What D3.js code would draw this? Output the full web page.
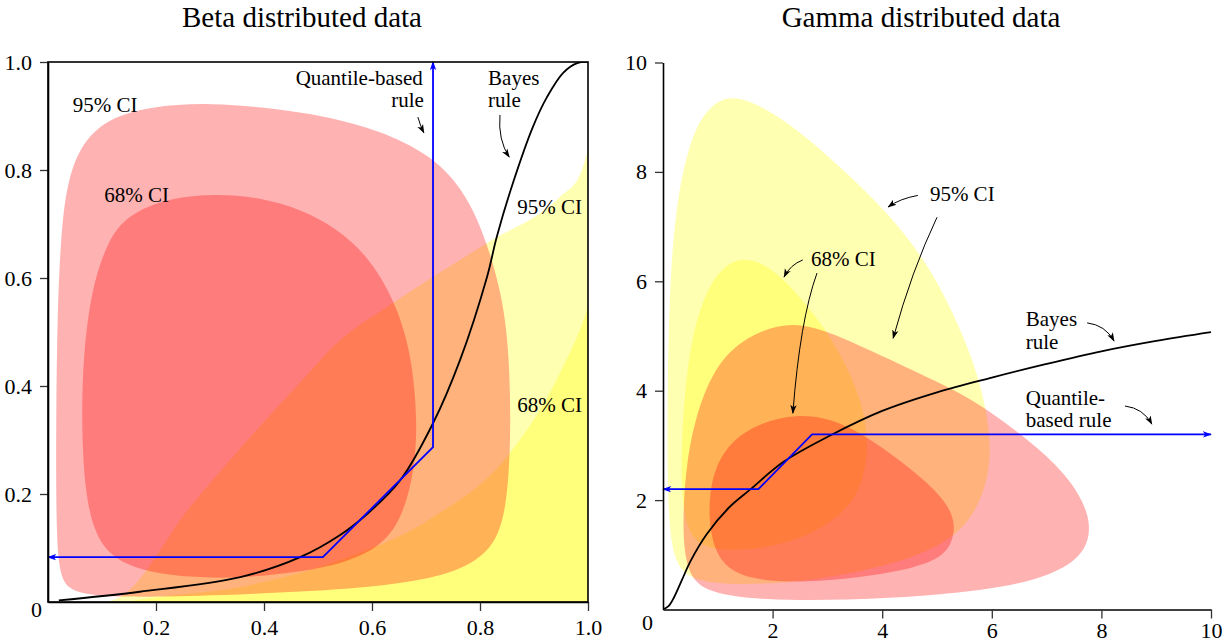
<!DOCTYPE html>
<html>
<head>
<meta charset="utf-8">
<script src="https://cdn.jsdelivr.net/npm/d3@7"></script>
<style>
  body { margin: 0; background: #fff; }
  svg text { font-family: "Liberation Serif", "Times New Roman", serif; fill: #000; }
</style>
</head>
<body>
<svg id="chart" width="1228" height="644"></svg>
<script>
// ---------------- data ----------------
// Beta panel: tick values
var betaTicks = [0.2, 0.4, 0.6, 0.8, 1.0];
// closed contour of the 95% CI for the red (beta) estimator
var betaRed95 = [[0.015,0.152],[0.015,0.337],[0.017,0.522],[0.024,0.689],[0.037,0.785],[0.064,0.852],
  [0.112,0.896],[0.189,0.918],[0.300,0.925],[0.430,0.913],[0.522,0.898],[0.615,0.873],[0.705,0.83],
  [0.765,0.77],[0.805,0.69],[0.837,0.585],[0.853,0.485],[0.858,0.319],[0.850,0.170],[0.825,0.100],
  [0.772,0.062],[0.689,0.038],[0.541,0.022],[0.319,0.012],[0.133,0.008],[0.045,0.016],[0.020,0.045]];
var betaRed68 = [[0.062,0.331],[0.065,0.454],[0.080,0.578],[0.110,0.668],[0.146,0.716],[0.220,0.748],
  [0.313,0.756],[0.393,0.749],[0.467,0.728],[0.535,0.692],[0.593,0.640],[0.640,0.563],[0.672,0.467],
  [0.684,0.343],[0.680,0.250],[0.657,0.155],[0.612,0.097],[0.528,0.066],[0.448,0.054],[0.356,0.044],
  [0.263,0.045],[0.170,0.058],[0.115,0.085],[0.085,0.130],[0.068,0.207]];
// yellow regions run from their upper boundary down to the x axis
var betaYellow95 = [[0.11,0.0],[0.133,0.009],[0.263,0.176],[0.387,0.319],[0.467,0.407],[0.541,0.485],
  [0.633,0.55],[0.813,0.665],[0.948,0.75],[0.985,0.791],[1.0,0.837],[1.02,0.92]];
var betaYellow68 = [[0.15,0.0],[0.17,0.004],[0.356,0.028],[0.467,0.054],[0.541,0.078],[0.713,0.157],
  [0.85,0.269],[0.948,0.424],[0.998,0.541],[1.02,0.62]];
var betaBayes = [[0.02,0.003],[0.17,0.019],[0.356,0.046],[0.467,0.083],[0.541,0.124],[0.591,0.163],
  [0.652,0.225],[0.713,0.331],[0.763,0.448],[0.813,0.602],[0.831,0.676],[0.861,0.776],[0.898,0.880],
  [0.924,0.935],[0.954,0.98],[0.98,0.998],[1.0,1.0]];
var betaQuantile = [[0.0,0.083],[0.509,0.083],[0.713,0.287],[0.713,1.0]];

// Gamma panel
var gammaTicks = [2, 4, 6, 8, 10];
var gammaYellow95 = [[1.37,9.45],[2.32,8.9],[3.23,8.1],[4.14,7.22],[4.76,6.41],[5.18,5.66],[5.55,4.84],
  [5.83,4.01],[5.99,3.10],[5.94,2.37],[5.66,1.68],[5.18,1.22],[4.32,0.85],[2.86,0.53],[1.41,0.44],
  [0.54,0.51],[0.17,0.86],[0.08,2.0],[0.08,3.83],[0.11,5.66],[0.22,7.35],[0.50,8.65],[0.86,9.25]];
var gammaYellow68 = [[1.37,6.5],[1.95,6.28],[2.43,5.80],[2.90,5.22],[3.36,4.47],[3.68,3.65],[3.76,2.82],
  [3.56,2.05],[3.08,1.58],[2.32,1.21],[1.41,1.06],[0.65,1.12],[0.38,1.60],[0.32,2.55],[0.38,3.83],
  [0.51,4.97],[0.84,6.02]];
var gammaRed95 = [[2.37,5.30],[3.23,5.0],[4.45,4.42],[5.47,3.95],[6.17,3.48],[7.04,2.80],[7.58,2.18],
  [7.84,1.54],[7.68,0.98],[7.08,0.62],[6.15,0.39],[4.87,0.25],[3.41,0.17],[1.77,0.17],[0.83,0.30],
  [0.44,0.62],[0.35,1.45],[0.41,2.55],[0.57,3.46],[0.92,4.42],[1.50,5.0]];
var gammaRed68 = [[2.45,3.60],[3.23,3.45],[3.96,3.0],[4.72,2.42],[5.20,1.94],[5.36,1.51],[5.20,1.0],
  [4.62,0.76],[3.59,0.58],[2.50,0.49],[1.59,0.54],[1.04,0.82],[0.84,1.45],[0.84,2.18],[1.04,2.86],[1.59,3.36]];
var gammaBayes = [[0,0],[0.1,0.06],[0.2,0.22],[0.35,0.55],[0.5,0.88],[0.8,1.38],[1.2,1.86],[1.6,2.2],
  [2.2,2.7],[3.05,3.18],[4.0,3.63],[5.0,3.97],[6.0,4.24],[7.0,4.49],[8.0,4.72],[9.0,4.91],[10,5.07]];
var gammaQuantile = [[0,2.2],[1.74,2.2],[2.72,3.2],[10,3.2]];

// annotations: [text, x, y, anchor]  and arrows: [x0,y0, cx,cy, x1,y1]
var betaLabels = [["95% CI",0.046,0.907,"start"],["68% CI",0.104,0.741,"start"],
  ["Quantile-based",0.694,0.958,"end"],["rule",0.696,0.917,"end"],
  ["Bayes",0.815,0.958,"start"],["rule",0.815,0.917,"start"],
  ["95% CI",0.869,0.719,"start"],["68% CI",0.869,0.352,"start"]];
var betaArrows = [[0.685,0.898,0.689,0.883,0.696,0.869],[0.837,0.902,0.833,0.856,0.854,0.824]];
var gammaLabels = [["95% CI",4.87,7.46,"start"],["68% CI",2.70,6.28,"start"],
  ["Bayes",6.62,5.18,"start"],["rule",6.62,4.76,"start"],
  ["Quantile-",6.62,3.73,"start"],["based rule",6.62,3.33,"start"]];
var gammaArrows = [[4.65,7.57,4.32,7.51,4.11,7.36],[5.0,7.17,4.54,6.2,4.20,4.96],
  [2.55,6.39,2.32,6.30,2.21,6.08],[2.81,6.15,2.50,5.29,2.37,3.59],
  [7.74,5.24,8.07,5.20,8.23,4.91],[8.43,3.72,8.76,3.68,8.92,3.39]];

// ---------------- drawing ----------------
var svg = d3.select("#chart");
var defs = svg.append("defs");

function marker(id, color) {
  defs.append("marker")
    .attr("id", id)
    .attr("viewBox", "0 0 10 10")
    .attr("refX", 9).attr("refY", 5)
    .attr("markerWidth", 9).attr("markerHeight", 9)
    .attr("markerUnits", "userSpaceOnUse")
    .attr("orient", "auto-start-reverse")
    .append("path")
    .attr("d", "M0,1.5 L10,5 L0,8.5 L2.5,5 Z")
    .attr("fill", color);
}
marker("arrK", "#000");
marker("arrB", "#0000ff");

function panel(opt) {
  var x = d3.scaleLinear().domain(opt.xDomain).range(opt.xRange);
  var y = d3.scaleLinear().domain(opt.yDomain).range(opt.yRange);
  var g = svg.append("g");

  defs.append("clipPath").attr("id", opt.id + "clip")
    .append("rect")
    .attr("x", opt.xRange[0]).attr("y", opt.yRange[1])
    .attr("width", opt.xRange[1] - opt.xRange[0])
    .attr("height", opt.yRange[0] - opt.yRange[1]);

  var plot = g.append("g").attr("clip-path", "url(#" + opt.id + "clip)");

  var closed = d3.line().x(function(d) { return x(d[0]); }).y(function(d) { return y(d[1]); })
    .curve(d3.curveBasisClosed);
  var area = d3.area().x(function(d) { return x(d[0]); }).y0(y(opt.yDomain[0]) + 5)
    .y1(function(d) { return y(d[1]); }).curve(d3.curveMonotoneX);

  // yellow first, red on top (semi transparent)
  opt.yellow.forEach(function(s) {
    plot.append("path")
      .attr("d", s.area ? area(s.pts) + "L" + (x(opt.xDomain[1]) + 20) + "," + (y(opt.yDomain[0]) + 5) : closed(s.pts))
      .attr("fill", "#ffff00").attr("fill-opacity", 0.3);
  });
  opt.red.forEach(function(s) {
    plot.append("path").attr("d", closed(s)).attr("fill", "#ff0000").attr("fill-opacity", 0.3);
  });

  var line = d3.line().x(function(d) { return x(d[0]); }).y(function(d) { return y(d[1]); });
  plot.append("path").attr("d", line.curve(d3.curveCatmullRom.alpha(0.5))(opt.bayes))
    .attr("fill", "none").attr("stroke", "#000").attr("stroke-width", 1.8);

  g.append("path").attr("d", d3.line().x(function(d) { return x(d[0]); }).y(function(d) { return y(d[1]); })(opt.quantile))
    .attr("fill", "none").attr("stroke", "#0000ff").attr("stroke-width", 1.8)
    .attr("marker-start", "url(#arrB)").attr("marker-end", "url(#arrB)");

  // axes
  var xa = g.append("g").attr("transform", "translate(0," + opt.yRange[0] + ")")
    .call(d3.axisBottom(x).tickValues(opt.ticks).tickFormat(opt.fmt).tickSize(9).tickPadding(opt.xPad).tickSizeOuter(0));
  var ya = g.append("g").attr("transform", "translate(" + opt.xRange[0] + ",0)")
    .call(d3.axisLeft(y).tickValues(opt.ticks).tickFormat(opt.fmt).tickSize(8).tickPadding(8).tickSizeOuter(0));
  [xa, ya].forEach(function(a) {
    a.selectAll("text").style("font-size", "22px").style("font-family", '"Liberation Serif", serif');
    a.selectAll(".tick line").attr("stroke", "#333").attr("stroke-width", 1.3);
    a.select(".domain").attr("stroke", "#000").attr("stroke-width", 1.6);
  });
  if (opt.box) {
    g.append("rect").attr("x", opt.xRange[0]).attr("y", opt.yRange[1])
      .attr("width", opt.xRange[1] - opt.xRange[0]).attr("height", opt.yRange[0] - opt.yRange[1])
      .attr("fill", "none").attr("stroke", "#000").attr("stroke-width", 1.6);
  }
  // corner zero
  g.append("text").attr("x", opt.xRange[0] + opt.zero[0]).attr("y", opt.yRange[0] + opt.zero[1])
    .attr("text-anchor", "end").style("font-size", "22px").text("0");

  // title
  g.append("text").attr("x", opt.titleX).attr("y", 27).attr("text-anchor", "middle")
    .style("font-size", "29px").text(opt.title);

  // annotations
  opt.labels.forEach(function(l) {
    g.append("text").attr("x", x(l[1])).attr("y", y(l[2])).attr("text-anchor", l[3])
      .style("font-size", "21px").text(l[0]);
  });
  opt.arrows.forEach(function(a) {
    var p = d3.path();
    p.moveTo(x(a[0]), y(a[1]));
    p.quadraticCurveTo(x(a[2]), y(a[3]), x(a[4]), y(a[5]));
    g.append("path").attr("d", p.toString()).attr("fill", "none")
      .attr("stroke", "#000").attr("stroke-width", 1).attr("marker-end", "url(#arrK)");
  });
}

panel({
  id: "beta", title: "Beta distributed data", titleX: 302,
  xDomain: [0, 1], xRange: [48, 588], yDomain: [0, 1], yRange: [602, 62],
  ticks: betaTicks, fmt: d3.format(".1f"), xPad: 8, box: true, zero: [-6, 15],
  yellow: [{ area: true, pts: betaYellow95 }, { area: true, pts: betaYellow68 }],
  red: [betaRed95, betaRed68],
  bayes: betaBayes, quantile: betaQuantile,
  labels: betaLabels, arrows: betaArrows
});

panel({
  id: "gamma", title: "Gamma distributed data", titleX: 921,
  xDomain: [0, 10], xRange: [663, 1211], yDomain: [0, 10], yRange: [609.5, 62.5],
  ticks: gammaTicks, fmt: d3.format("d"), xPad: 4, box: false, zero: [-10, 20],
  yellow: [{ area: false, pts: gammaYellow95 }, { area: false, pts: gammaYellow68 }],
  red: [gammaRed95, gammaRed68],
  bayes: gammaBayes, quantile: gammaQuantile,
  labels: gammaLabels, arrows: gammaArrows
});
</script>
</body>
</html>
